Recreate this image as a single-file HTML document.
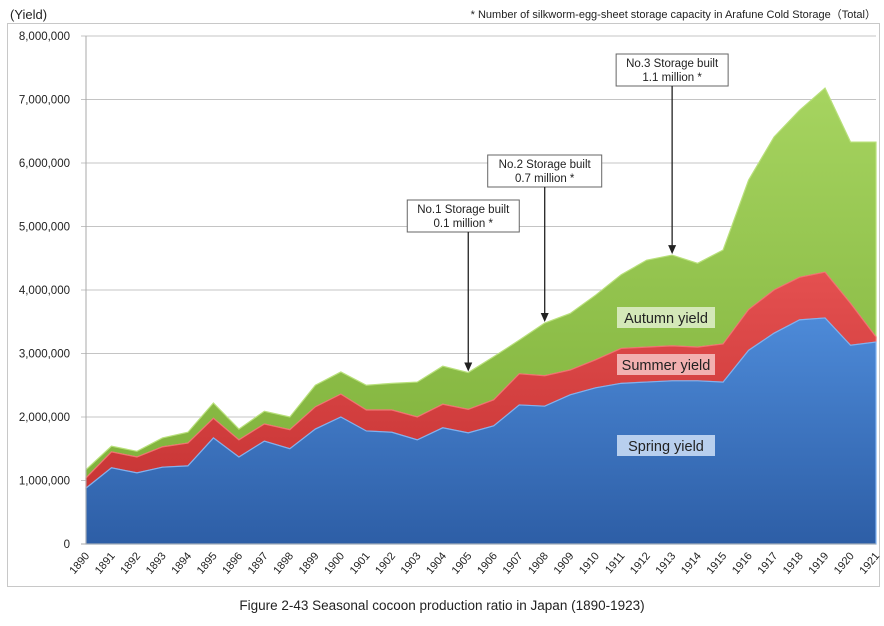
<!DOCTYPE html>
<html><head><meta charset="utf-8">
<style>
html,body{margin:0;padding:0;background:#fff;}
body{width:884px;height:621px;overflow:hidden;font-family:"Liberation Sans","Noto Sans CJK JP",sans-serif;}
</style></head>
<body>
<svg id="chart" width="884" height="621" xmlns="http://www.w3.org/2000/svg" font-family="Liberation Sans, Noto Sans CJK JP, sans-serif">
<defs>
<linearGradient id="gBlue" x1="0" y1="0" x2="0" y2="1"><stop offset="0" stop-color="#4d8ad8"/><stop offset="1" stop-color="#2d5ea6"/></linearGradient>
<linearGradient id="gRed" x1="0" y1="0" x2="0" y2="1"><stop offset="0" stop-color="#e45050"/><stop offset="1" stop-color="#c83535"/></linearGradient>
<linearGradient id="gGreen" x1="0" y1="0" x2="0" y2="1"><stop offset="0" stop-color="#a6d460"/><stop offset="1" stop-color="#80b23c"/></linearGradient>
</defs>
<rect x="7.5" y="23.5" width="872" height="563" fill="none" stroke="#c8c8c8"/>
<text x="10" y="19" font-size="13" fill="#222">(Yield)</text>
<text x="876" y="18" font-size="11" fill="#222" text-anchor="end">* Number of silkworm-egg-sheet storage capacity in Arafune Cold Storage（Total）</text>
<g id="grid"></g>
<g id="areas"></g>
<g id="axes"></g>
<g id="annots"></g>
<text x="442" y="610" font-size="13.5" fill="#222" text-anchor="middle">Figure 2-43 Seasonal cocoon production ratio in Japan (1890-1923)</text>
</svg>
<script>
const years = [1890,1891,1892,1893,1894,1895,1896,1897,1898,1899,1900,1901,1902,1903,1904,1905,1906,1907,1908,1909,1910,1911,1912,1913,1914,1915,1916,1917,1918,1919,1920,1921];
const springYield = [880000,1200000,1120000,1210000,1230000,1670000,1370000,1620000,1500000,1810000,2000000,1780000,1760000,1640000,1830000,1750000,1860000,2190000,2170000,2350000,2460000,2530000,2550000,2570000,2570000,2550000,3050000,3320000,3530000,3560000,3130000,3180000];
const summerYield = [160000,250000,250000,320000,360000,310000,270000,270000,300000,350000,360000,330000,350000,360000,370000,370000,410000,490000,480000,390000,440000,550000,550000,550000,530000,600000,640000,680000,670000,720000,660000,80000];
const autumnYield = [130000,90000,90000,140000,170000,240000,170000,200000,200000,340000,350000,390000,420000,550000,600000,580000,680000,530000,830000,890000,1020000,1160000,1370000,1430000,1320000,1480000,2040000,2410000,2630000,2900000,2540000,3070000];
const yTicks = [0,1000000,2000000,3000000,4000000,5000000,6000000,7000000,8000000];
const yTickLabels = ["0","1,000,000","2,000,000","3,000,000","4,000,000","5,000,000","6,000,000","7,000,000","8,000,000"];
const annotYears = [1905,1908,1913];
const annotLine1 = ["No.1 Storage built","No.2 Storage built","No.3 Storage built"];
const annotLine2 = ["0.1 million *","0.7 million *","1.1 million *"];

const NS="http://www.w3.org/2000/svg";
const X0=86,X1=876,Y0=544,Y1=36,YMAX=8000000;
const xs=i=>X0+(X1-X0)*i/(years.length-1);
const ys=v=>Y0-(Y0-Y1)*v/YMAX;
function mk(tag,attrs,parent){const e=document.createElementNS(NS,tag);for(const k in attrs)e.setAttribute(k,attrs[k]);parent.appendChild(e);return e;}
const grid=document.getElementById('grid'),areas=document.getElementById('areas'),axes=document.getElementById('axes'),ann=document.getElementById('annots');

yTicks.forEach((t,i)=>{
  const y=ys(t);
  if(t>0){const l=mk('line',{x1:X0-5,x2:X1,y1:y,y2:y,stroke:'#c4c4c4','stroke-width':1},grid);
  
  }
  const tx=mk('text',{x:70,y:y+4,'font-size':11.5,'text-anchor':'end',fill:'#222'},axes);
  tx.textContent=yTickLabels[i];
  
  
});

const cum1=springYield.slice();
const cum2=springYield.map((v,i)=>v+summerYield[i]);
const cum3=cum2.map((v,i)=>v+autumnYield[i]);
function areaPath(top,bot){
  let d='M'+xs(0)+','+ys(top[0]);
  for(let i=1;i<top.length;i++)d+=' L'+xs(i)+','+ys(top[i]);
  for(let i=bot.length-1;i>=0;i--)d+=' L'+xs(i)+','+ys(bot[i]);
  return d+' Z';
}
const zeros=years.map(()=>0);
const a3=mk('path',{d:areaPath(cum3,cum2),fill:'url(#gGreen)',stroke:'#b8e07a','stroke-width':1.2},areas);


const a2=mk('path',{d:areaPath(cum2,cum1),fill:'url(#gRed)',stroke:'#f07070','stroke-width':1.2},areas);


const a1=mk('path',{d:areaPath(cum1,zeros),fill:'url(#gBlue)',stroke:'#7fb2f0','stroke-width':1.2},areas);



const ax=mk('line',{x1:X0,x2:X0,y1:Y1,y2:Y0,stroke:'#aaa'},axes);


const bx=mk('line',{x1:X0-5,x2:X1,y1:Y0,y2:Y0,stroke:'#aaa'},axes);


years.forEach((yr,i)=>{
  const x=xs(i);
  const tx=mk('text',{x:x+4,y:556,'font-size':11,'text-anchor':'end',fill:'#222',transform:'rotate(-50 '+(x+4)+' 556)'},axes);
  tx.textContent=yr;
  
  
});

const boxW=[112,114,112];
const boxTop=[200,155,54];
annotYears.forEach((yr,k)=>{
  const i=years.indexOf(yr);
  const x=xs(i),yEnd=ys(cum3[i]);
  const bx0=x-boxW[k]/2+(k===0?-5:0);
  const g=mk('g',{},ann);
  
  
  mk('rect',{x:bx0,y:boxTop[k],width:boxW[k],height:32,fill:'#fff',stroke:'#666'},g);
  const t1=mk('text',{x:bx0+boxW[k]/2,y:boxTop[k]+13,'font-size':11.5,'text-anchor':'middle',fill:'#222'},g);t1.textContent=annotLine1[k];
  const t2=mk('text',{x:bx0+boxW[k]/2,y:boxTop[k]+27,'font-size':11.5,'text-anchor':'middle',fill:'#222'},g);t2.textContent=annotLine2[k];
  mk('line',{x1:x,x2:x,y1:boxTop[k]+32,y2:yEnd-8,stroke:'#222','stroke-width':1.3},g);
  mk('path',{d:'M'+(x-4)+','+(yEnd-10)+' L'+(x+4)+','+(yEnd-10)+' L'+x+','+(yEnd-1)+' Z',fill:'#222'},g);
});

const lbl=[["Autumn yield",318,'#d4e8b8'],["Summer yield",365,'#f2b0b0'],["Spring yield",446,'#b8cfee']];
lbl.forEach(([t,y,c])=>{
  const g=mk('g',{},ann);
  
  
  mk('rect',{x:617,y:y-11,width:98,height:21,fill:c},g);
  const tx=mk('text',{x:666,y:y+5,'font-size':14.5,'text-anchor':'middle',fill:'#222'},g);tx.textContent=t;
});
</script>
</body></html>
